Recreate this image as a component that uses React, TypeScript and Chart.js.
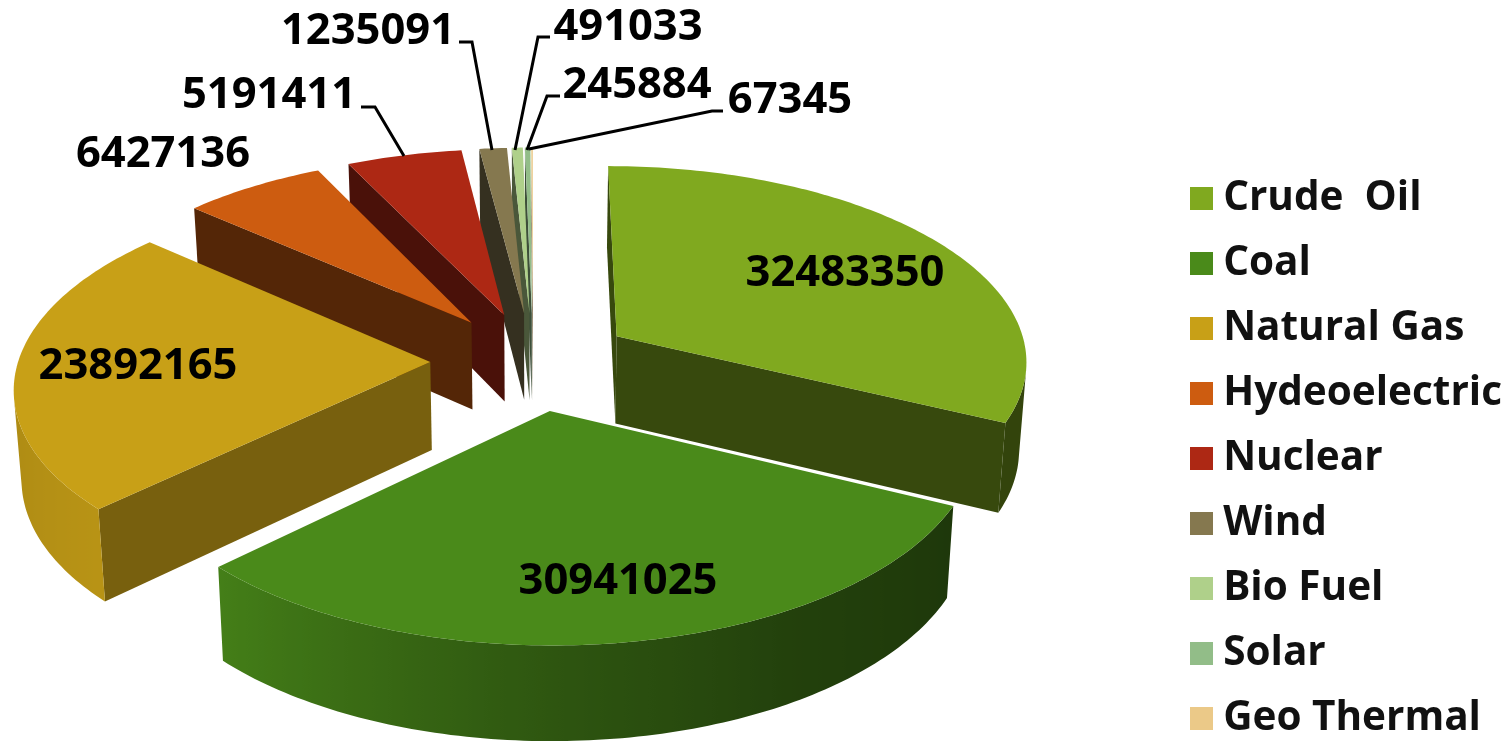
import { useEffect, useRef } from "react";
import { Chart, registerables } from "chart.js";

Chart.register(...registerables);

// Energy production by source
const categories = ["Crude  Oil", "Coal", "Natural Gas", "Hydeoelectric", "Nuclear", "Wind", "Bio Fuel", "Solar", "Geo Thermal"];
const values = [32483350, 30941025, 23892165, 6427136, 5191411, 1235091, 491033, 245884, 67345];
const colors = ["#80A91F", "#4A8A1A", "#C8A017", "#CD5C10", "#AD2814", "#85784F", "#AFD08A", "#92BD88", "#EBC988"];
const wallShades = [0.43, 0.43, 0.6, 0.41, 0.43, 0.4, 0.42, 0.42, 0.5];
const explode = [80, 83, 82, 83, 83, 83, 83, 83, 83];

// Value label placement: centre of the text, and an optional leader (elbow, then the rim it points at).
const labelCentres = [[845, 274], [618, 582], [138, 367], [163, 155], [269, 96], [368, 32], [628, 28], [637, 86], [790, 101]];
const leaders: (number[][] | null)[] = [
  null, null, null, null,
  [[361, 107], [375, 107], [404, 156]],
  [[459, 42], [472, 42], [492, 150]],
  [[550, 37], [538, 37], [515, 150]],
  [[560, 96], [547, 96], [527, 150]],
  [[723, 111], [712, 111], [529, 149]],
];

const FONT = "'Open Sans'";
const VALUE_SIZE = 43.5;
const LEGEND_SIZE = 40.5;

// Camera: disc coordinates (u, v in radii, v towards the viewer) to screen pixels.
const VIEW = { cx: 533, cy: 361, a: 412, b: 195, k: 0.115, depth: 88, taper: 0.985 };

// Side brightness around the rim, by clockwise degrees from twelve o'clock.
const rimStops = [[0, 0.43], [115, 0.4], [150, 0.47], [180, 0.62], [226, 0.92], [270, 0.85], [360, 0.9]];

function rimShade(deg: number) {
  const d = ((deg % 360) + 360) % 360;
  for (let i = 1; i < rimStops.length; i++) {
    if (d <= rimStops[i][0]) {
      const [d0, s0] = rimStops[i - 1];
      const [d1, s1] = rimStops[i];
      return s0 + ((s1 - s0) * (d - d0)) / (d1 - d0);
    }
  }
  return 0.9;
}

function shade(hex: string, f: number) {
  const n = parseInt(hex.slice(1), 16);
  const c = (v: number) => Math.round(Math.min(255, v * f));
  return `rgb(${c((n >> 16) & 255)},${c((n >> 8) & 255)},${c(n & 255)})`;
}

function projectTop(u: number, v: number) {
  const s = 1 / (1 - VIEW.k * v);
  return { x: VIEW.cx + VIEW.a * u * s, y: VIEW.cy + VIEW.b * v * s, v };
}

function projectBottom(p: { x: number; y: number; v: number }) {
  return {
    x: VIEW.cx + (p.x - VIEW.cx) * VIEW.taper,
    y: p.y + VIEW.depth * (1 + 0.07 * p.v),
  };
}

type Pt = { x: number; y: number };

function fillPoly(ctx: CanvasRenderingContext2D, pts: Pt[], color: string | CanvasGradient) {
  ctx.beginPath();
  pts.forEach((p, i) => (i ? ctx.lineTo(p.x, p.y) : ctx.moveTo(p.x, p.y)));
  ctx.closePath();
  ctx.fillStyle = color;
  ctx.fill();
}

function area(pts: Pt[]) {
  let s = 0;
  pts.forEach((p, i) => {
    const q = pts[(i + 1) % pts.length];
    s += p.x * q.y - q.x * p.y;
  });
  return s;
}

// Paints the visible stretch of a wedge's rim as one shape, shaded along its width.
function fillRim(ctx: CanvasRenderingContext2D, rim: Pt[], degs: number[], color: string) {
  if (rim.length < 2) return;
  const bottoms = rim.map((p) => projectBottom(p as any));
  const x0 = rim[0].x;
  const x1 = rim[rim.length - 1].x;
  const grad = ctx.createLinearGradient(x0, 0, x1, 0);
  rim.forEach((p, i) => {
    const t = (p.x - x0) / (x1 - x0 || 1);
    grad.addColorStop(Math.max(0, Math.min(1, t)), shade(color, rimShade(degs[i])));
  });
  fillPoly(ctx, [...rim, ...bottoms.reverse()], grad);
}

// Draws the pie's arc elements as extruded wedges seen in perspective, then the value labels.
const pie3d = {
  id: "pie3d",
  beforeDatasetsDraw(chart: any) {
    const ctx: CanvasRenderingContext2D = chart.ctx;
    const arcs = chart.getDatasetMeta(0).data;
    const order = arcs
      .map((arc: any, i: number) => ({ i, mid: (arc.startAngle + arc.endAngle) / 2 }))
      .sort((p: any, q: any) => Math.sin(p.mid) - Math.sin(q.mid));

    ctx.save();
    for (const { i, mid } of order) {
      const arc = arcs[i];
      const R = arc.outerRadius;
      const off = arc.options.offset / R;
      const ou = Math.cos(mid) * off;
      const ov = Math.sin(mid) * off;
      const color = arc.options.backgroundColor as string;

      const steps = Math.max(4, Math.ceil(((arc.endAngle - arc.startAngle) * 180) / Math.PI));
      const tip = projectTop(ou, ov);
      const rim: any[] = [];
      const degs: number[] = [];
      for (let s = 0; s <= steps; s++) {
        const a = arc.startAngle + ((arc.endAngle - arc.startAngle) * s) / steps;
        rim.push(projectTop(ou + Math.cos(a), ov + Math.sin(a)));
        degs.push(((a + Math.PI / 2) * 180) / Math.PI);
      }

      // Radial walls: the one entering the tip and the one leaving it.
      for (const [p, q] of [[tip, rim[0]], [rim[rim.length - 1], tip]]) {
        const quad = [p, q, projectBottom(q), projectBottom(p)];
        if (area(quad) < 0) fillPoly(ctx, quad, shade(color, wallShades[i]));
      }

      // Outer wall: only the segments that face the camera.
      const visible: any[] = [];
      const visibleDegs: number[] = [];
      for (let e = 0; e < rim.length - 1; e++) {
        const quad = [rim[e], rim[e + 1], projectBottom(rim[e + 1]), projectBottom(rim[e])];
        if (area(quad) < 0) {
          if (!visible.length) {
            visible.push(rim[e]);
            visibleDegs.push(degs[e]);
          }
          visible.push(rim[e + 1]);
          visibleDegs.push(degs[e + 1]);
        }
      }
      fillRim(ctx, visible, visibleDegs, color);

      fillPoly(ctx, [tip, ...rim], color);
    }

    ctx.fillStyle = "#000";
    ctx.strokeStyle = "#000";
    ctx.font = `bold ${VALUE_SIZE}px ${FONT}`;
    ctx.textAlign = "center";
    ctx.textBaseline = "middle";
    values.forEach((value, i) => {
      const [x, y] = labelCentres[i];
      ctx.fillText(String(value), x, y);
      const leader = leaders[i];
      if (leader) {
        ctx.beginPath();
        leader.forEach(([lx, ly], j) => (j ? ctx.lineTo(lx, ly) : ctx.moveTo(lx, ly)));
        ctx.lineWidth = 3;
        ctx.stroke();
      }
    });
    ctx.restore();
    return false;
  },
};

function swatch(color: string) {
  const c = document.createElement("canvas");
  c.width = 23;
  c.height = 23;
  const g = c.getContext("2d")!;
  g.fillStyle = color;
  g.fillRect(0, 0, 23, 23);
  return c;
}

export default function App() {
  const ref = useRef<HTMLCanvasElement>(null);

  useEffect(() => {
    document.body.style.margin = "0";
    document.body.style.background = "#fff";
    const chart = new Chart(ref.current!, {
      type: "pie",
      data: {
        labels: categories,
        datasets: [{ data: values, backgroundColor: colors, borderWidth: 0, offset: explode }],
      },
      plugins: [pie3d],
      options: {
        responsive: false,
        animation: false,
        layout: { padding: { bottom: -22, right: -2 } },
        plugins: {
          tooltip: { enabled: false },
          legend: {
            position: "right",
            align: "end",
            labels: {
              color: "#111",
              font: { family: FONT, size: LEGEND_SIZE, weight: "bold" },
              padding: 24.5,
              boxWidth: 2,
              boxHeight: 2,
              usePointStyle: true,
              generateLabels: () =>
                categories.map((text, i) => ({
                  text,
                  index: i,
                  hidden: false,
                  fontColor: "#111",
                  pointStyle: swatch(colors[i]) as any,
                })),
            },
          },
        },
      } as any,
    });
    return () => chart.destroy();
  }, []);

  return <canvas ref={ref} width={1510} height={741} style={{ display: "block" }} />;
}
